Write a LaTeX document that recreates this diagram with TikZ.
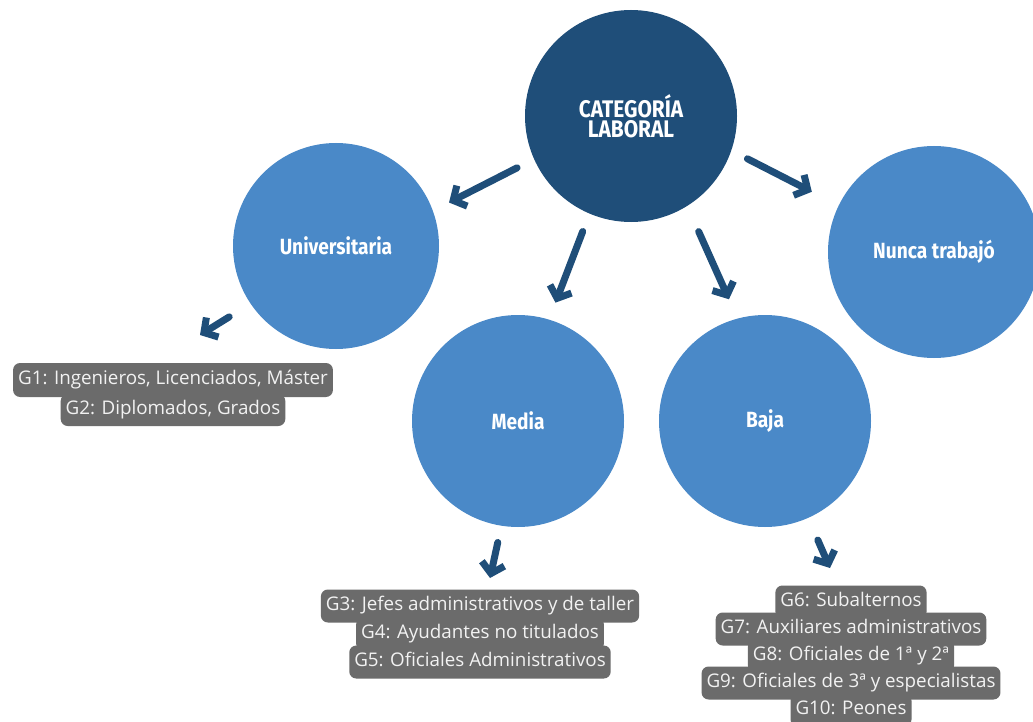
\documentclass[tikz,border=0pt]{standalone}
\usepackage{fontspec}
\setmainfont{Open Sans}
\newfontfamily\titlefont[FakeStretch=0.87]{Fira Sans}
\usetikzlibrary{arrows.meta}
\definecolor{catblue}{HTML}{1F4E79}
\definecolor{subblue}{HTML}{4A89C8}
\definecolor{tagfill}{HTML}{6B6B6B}
\definecolor{tagtext}{HTML}{F2F2F2}

\begin{document}
\begin{tikzpicture}[x=1pt, y=-1pt,
  bubble/.style={circle, fill=subblue, inner sep=0pt, minimum size=212pt, text=white,
    font=\titlefont\bfseries\fontsize{22}{22}\selectfont},
  tag/.style={fill=tagfill, text=tagtext, rounded corners=7pt, inner xsep=5pt, inner ysep=0pt,
    minimum height=33pt, text height=13.5pt, text depth=4.5pt, font=\fontsize{18.8}{20}\selectfont},
  flow/.style={draw=catblue, line width=7pt, line cap=round,
    -{Straight Barb[length=10pt, width=23pt]}}]
  \fill[white] (0, 0) rectangle (1033, 722);
  \useasboundingbox (0, 0) rectangle (1033, 722);

  % categories
  \node[bubble, fill=catblue, align=center,
    font=\titlefont\bfseries\fontsize{24}{20}\selectfont] (cat) at (631, 116) {CATEGORÍA\\LABORAL};
  \node[bubble, minimum size=206pt] (uni) at (336, 246) {Universitaria};
  \node[bubble] (nunca) at (934, 252) {Nunca trabajó};
  \node[bubble] (media) at (518, 421) {Media};
  \node[bubble] (baja) at (765, 421) {Baja};

  % groups
  \node[tag, minimum height=34pt] (g1) at (173, 380) {G1: Ingenieros, Licenciados, Máster};
  \node[tag, minimum height=32pt] (g2) at (173, 410) {G2: Diplomados, Grados};

  \node[tag] (g3) at (480, 606) {G3: Jefes administrativos y de taller};
  \node[tag] (g4) at (480, 634) {G4: Ayudantes no titulados};
  \node[tag] (g5) at (480, 662) {G5: Oficiales Administrativos};

  \node[tag] (g6) at (851, 602) {G6: Subalternos};
  \node[tag] (g7) at (851, 629) {G7: Auxiliares administrativos};
  \node[tag] (g8) at (851, 656) {G8: Oficiales de 1ª y 2ª};
  \node[tag] (g9) at (851, 683) {G9: Oficiales de 3ª y especialistas};
  \node[tag] (g10) at (851, 710) {G10: Peones};

  \coordinate (uniend) at (200, 335);
  \coordinate (mediaend) at (490, 578);
  \coordinate (bajaend) at (830, 568);

  \draw[flow, shorten <=19pt, shorten >=18pt] (cat.204) -- (uni.20);
  \draw[flow, shorten <=19pt, shorten >=18pt] (cat.247) -- (media.73);
  \draw[flow, shorten <=28pt, shorten >=21pt] (cat.302) -- (baja.105);
  \draw[flow, shorten <=18pt, shorten >=30pt] (cat.341) -- (nunca.154);

  \draw[flow, shorten <=25pt] (uni.214) -- (uniend);
  \draw[flow, shorten <=17pt] (media.261) -- (mediaend);
  \draw[flow, shorten <=24pt] (baja.294) -- (bajaend);
\end{tikzpicture}
\end{document}
